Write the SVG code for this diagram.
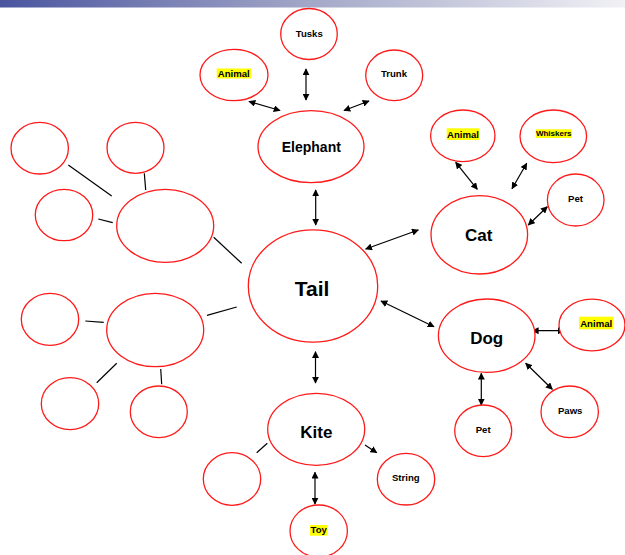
<svg xmlns="http://www.w3.org/2000/svg" width="625" height="555" viewBox="0 0 625 555">
  <defs>
    <linearGradient id="band" x1="0" y1="0" x2="1" y2="0">
      <stop offset="0" stop-color="#4a559f"/>
      <stop offset="0.5" stop-color="#a4a8c8"/>
      <stop offset="1" stop-color="#f1f1f5"/>
    </linearGradient>
    <marker id="ah" viewBox="0 0 10 10" refX="9" refY="5" markerWidth="7" markerHeight="7" markerUnits="userSpaceOnUse" orient="auto-start-reverse">
      <path d="M0,0 L10,5 L0,10 z" fill="#000"/>
    </marker>
    <style>
      .node ellipse { fill: #fff; stroke: #ff1a1a; stroke-width: 1.3; }
      .lbl { font-family: "Liberation Sans", Arial, sans-serif; font-weight: bold; fill: #000; text-anchor: middle; }
      .big { font-size: 17px; }
      .mid { font-size: 14px; }
      .sm { font-size: 9.6px; }
      .hl { fill: #ffff00; }
      .arr { stroke: #000; stroke-width: 1.2; fill: none; marker-start: url(#ah); marker-end: url(#ah); }
      .one { stroke: #000; stroke-width: 1.2; fill: none; marker-end: url(#ah); }
      .ln { stroke: #000; stroke-width: 1.2; fill: none; }
    </style>
  </defs>

  <!-- title band -->
  <rect x="0" y="0" width="625" height="7.5" fill="url(#band)"/>

  <!-- connectors -->
  <g id="connectors">
    <!-- Elephant cluster -->
    <line class="arr" x1="306" y1="69" x2="306" y2="100"/>
    <line class="arr" x1="249" y1="101.5" x2="280" y2="110.5"/>
    <line class="arr" x1="344" y1="110.5" x2="369" y2="101"/>
    <line class="arr" x1="315.7" y1="190" x2="315.7" y2="225"/>
    <!-- Cat cluster -->
    <line class="arr" x1="365.7" y1="249" x2="418.3" y2="230"/>
    <line class="arr" x1="455.7" y1="162.3" x2="477.3" y2="189.3"/>
    <line class="arr" x1="526.7" y1="163.3" x2="512" y2="188.7"/>
    <line class="arr" x1="547.3" y1="206.7" x2="528.3" y2="225"/>
    <!-- Dog cluster -->
    <line class="arr" x1="381" y1="301" x2="434" y2="326.7"/>
    <line class="arr" x1="532.3" y1="330.7" x2="564.3" y2="330.7"/>
    <line class="arr" x1="525.7" y1="363.3" x2="552.3" y2="389.3"/>
    <line class="arr" x1="481.3" y1="373.3" x2="481.3" y2="405"/>
    <!-- Kite cluster -->
    <line class="arr" x1="315.5" y1="351.7" x2="315.5" y2="383"/>
    <line class="arr" x1="315" y1="472.3" x2="315" y2="504"/>
    <line class="one" x1="365" y1="445" x2="376.7" y2="452.7"/>
    <line class="ln" x1="256.7" y1="452.7" x2="267.3" y2="443.3"/>
    <!-- upper blank cluster -->
    <line class="ln" x1="68.3" y1="165" x2="111.7" y2="196"/>
    <line class="ln" x1="144.3" y1="173.3" x2="145.7" y2="190"/>
    <line class="ln" x1="98.3" y1="219" x2="112.7" y2="222.7"/>
    <line class="ln" x1="213.7" y1="237.3" x2="241.7" y2="263.3"/>
    <!-- lower blank cluster -->
    <line class="ln" x1="85.3" y1="321" x2="103.7" y2="322.3"/>
    <line class="ln" x1="207" y1="315.3" x2="236.7" y2="307"/>
    <line class="ln" x1="116.7" y1="363.3" x2="96.7" y2="382.7"/>
    <line class="ln" x1="160.7" y1="369" x2="161.7" y2="384.3"/>
  </g>

  <!-- central node -->
  <g id="tail" class="node">
    <ellipse cx="313" cy="286" rx="64.7" ry="56.2"/>
    <text class="lbl" x="312" y="296" style="font-size:21px">Tail</text>
  </g>

  <!-- Elephant branch -->
  <g id="elephant" class="node">
    <ellipse cx="311" cy="146.7" rx="53" ry="36"/>
    <text class="lbl mid" x="311.3" y="151.7">Elephant</text>
  </g>
  <g id="tusks" class="node">
    <ellipse cx="309" cy="34" rx="28.3" ry="25.5"/>
    <text class="lbl sm" x="309.3" y="37">Tusks</text>
  </g>
  <g id="elephant-animal" class="node">
    <ellipse cx="234" cy="75" rx="34" ry="25.7"/>
    <rect class="hl" x="216.7" y="68.5" width="34.3" height="10"/>
    <text class="lbl sm" x="233.8" y="77">Animal</text>
  </g>
  <g id="trunk" class="node">
    <ellipse cx="394.2" cy="75.3" rx="28.5" ry="25.3"/>
    <text class="lbl sm" x="394" y="77">Trunk</text>
  </g>

  <!-- Cat branch -->
  <g id="cat" class="node">
    <ellipse cx="479.3" cy="234.8" rx="48.3" ry="39.2"/>
    <text class="lbl big" x="478.7" y="240.7">Cat</text>
  </g>
  <g id="cat-animal" class="node">
    <ellipse cx="462.8" cy="135.8" rx="32.2" ry="25.8"/>
    <rect class="hl" x="446.7" y="128.3" width="32.6" height="11.7"/>
    <text class="lbl sm" x="463" y="138">Animal</text>
  </g>
  <g id="whiskers" class="node">
    <ellipse cx="553.3" cy="136.3" rx="33.3" ry="26.3"/>
    <rect class="hl" x="535.7" y="129.3" width="36" height="8.7"/>
    <text class="lbl" x="553.7" y="136.2" style="font-size:8px">Whiskers</text>
  </g>
  <g id="cat-pet" class="node">
    <ellipse cx="575.7" cy="200" rx="28.3" ry="26"/>
    <text class="lbl sm" x="575.5" y="201.5">Pet</text>
  </g>

  <!-- Dog branch -->
  <g id="dog" class="node">
    <ellipse cx="486.7" cy="335.7" rx="48.3" ry="36.7"/>
    <text class="lbl big" x="486.7" y="344.3">Dog</text>
  </g>
  <g id="dog-animal" class="node">
    <ellipse cx="592" cy="325" rx="33" ry="25.8"/>
    <rect class="hl" x="579" y="316.7" width="34.3" height="12.6"/>
    <text class="lbl sm" x="596.2" y="327">Animal</text>
  </g>
  <g id="paws" class="node">
    <ellipse cx="569.7" cy="411.8" rx="28.7" ry="25.8"/>
    <text class="lbl sm" x="570.2" y="413.5">Paws</text>
  </g>
  <g id="dog-pet" class="node">
    <ellipse cx="483.2" cy="430.8" rx="28.5" ry="25.8"/>
    <text class="lbl sm" x="483.2" y="433">Pet</text>
  </g>

  <!-- Kite branch -->
  <g id="kite" class="node">
    <ellipse cx="316.2" cy="429.3" rx="48.5" ry="36"/>
    <text class="lbl big" x="316.3" y="438.3">Kite</text>
  </g>
  <g id="kite-blank" class="node">
    <ellipse cx="232" cy="479" rx="28.7" ry="26.3"/>
  </g>
  <g id="string" class="node">
    <ellipse cx="406" cy="479.2" rx="28.7" ry="25.8"/>
    <text class="lbl sm" x="405.8" y="480.8">String</text>
  </g>
  <g id="toy" class="node">
    <ellipse cx="318.7" cy="531" rx="28.7" ry="26"/>
    <rect class="hl" x="310" y="525" width="17.3" height="10.7"/>
    <text class="lbl sm" x="318.7" y="533">Toy</text>
  </g>

  <!-- upper blank cluster -->
  <g id="blank-a" class="node">
    <ellipse cx="165.2" cy="225.8" rx="48.5" ry="36.5"/>
  </g>
  <g id="blank-a1" class="node">
    <ellipse cx="39.7" cy="148.2" rx="28.7" ry="25.8"/>
  </g>
  <g id="blank-a2" class="node">
    <ellipse cx="135.5" cy="147.8" rx="28.5" ry="25.5"/>
  </g>
  <g id="blank-a3" class="node">
    <ellipse cx="64" cy="215" rx="28.7" ry="25.7"/>
  </g>

  <!-- lower blank cluster -->
  <g id="blank-b" class="node">
    <ellipse cx="155.2" cy="330" rx="48.5" ry="36.7"/>
  </g>
  <g id="blank-b1" class="node">
    <ellipse cx="50" cy="319.3" rx="28.7" ry="26"/>
  </g>
  <g id="blank-b2" class="node">
    <ellipse cx="70" cy="403.7" rx="28.7" ry="26"/>
  </g>
  <g id="blank-b3" class="node">
    <ellipse cx="158.8" cy="411.8" rx="28.5" ry="25.8"/>
  </g>
</svg>
